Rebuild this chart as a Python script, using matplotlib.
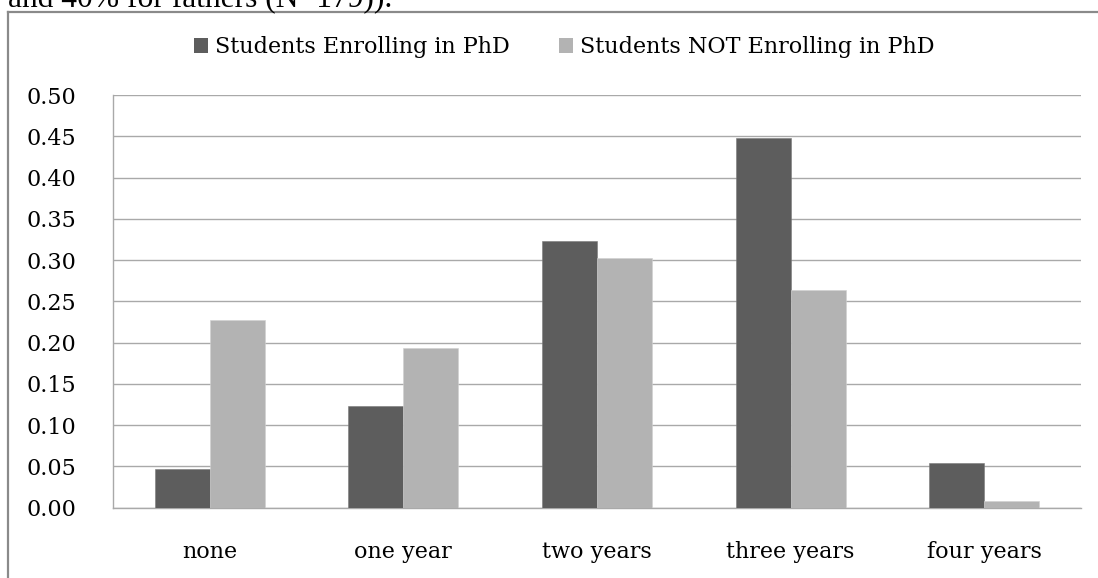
import matplotlib.pyplot as plt
import numpy as np
from matplotlib.lines import Line2D
from matplotlib.patches import Patch

# data
categories = ['none', 'one year', 'two years', 'three years', 'four years']
enrolling = [0.047, 0.123, 0.323, 0.448, 0.054]
not_enrolling = [0.227, 0.194, 0.302, 0.264, 0.008]
series_names = ['Students Enrolling in PhD', 'Students NOT Enrolling in PhD']
yticks = [0.00, 0.05, 0.10, 0.15, 0.20, 0.25, 0.30, 0.35, 0.40, 0.45, 0.50]

dark = '#5d5d5d'
light = '#b3b3b3'
grid_c = '#a9a9a9'

plt.rcParams['font.family'] = ['DejaVu Serif']

fig = plt.figure(figsize=(10.98, 5.78), dpi=100)
ax = fig.add_axes([112.7 / 1098, 1 - 507.7 / 578, (1081 - 112.7) / 1098, (507.7 - 95) / 578])

x = np.arange(len(categories))
w = 0.284
ax.bar(x - w / 2, enrolling, w, color=dark, edgecolor='#7a7a7a', linewidth=0.4, zorder=3)
ax.bar(x + w / 2, not_enrolling, w, color=light, edgecolor='#d0d0d0', linewidth=0.4, zorder=3)

ax.set_xlim(-0.5, len(categories) - 0.5)
ax.set_ylim(0, 0.5)
ax.set_yticks(yticks)
ax.set_yticklabels(['%.2f' % v for v in yticks], fontsize=16)
ax.set_xticks(x)
ax.set_xticklabels(categories, fontsize=16)
ax.tick_params(axis='y', length=0, pad=26)
ax.tick_params(axis='x', length=0, pad=24)
ax.yaxis.grid(True, color=grid_c, linewidth=1.0, zorder=0)
ax.set_axisbelow(True)
for s in ['top', 'right']:
    ax.spines[s].set_visible(False)
for s in ['left', 'bottom']:
    ax.spines[s].set_color(grid_c)
    ax.spines[s].set_linewidth(1.0)

handles = [Patch(facecolor=dark, edgecolor='none'), Patch(facecolor=light, edgecolor='none')]
fig.legend(handles, series_names, loc='center', bbox_to_anchor=(564 / 1098, 1 - 47 / 578),
           ncol=2, frameon=False, fontsize=16, handlelength=0.65, handleheight=0.65,
           handletextpad=0.3, columnspacing=2.2, borderpad=0)

# frame of the chart box (cut off at right and bottom)
fig.add_artist(Line2D([8 / 1098, 8 / 1098], [0, 1 - 12 / 578], color='#8a8a8a', lw=1.6,
                      transform=fig.transFigure))
fig.add_artist(Line2D([8 / 1098, 1], [1 - 12 / 578, 1 - 12 / 578], color='#8a8a8a', lw=1.6,
                      transform=fig.transFigure))

# leftover document text above the chart
fig.text(8 / 1098, 1 - 7 / 578, 'and 40% for fathers (N=179)).', fontsize=22.7,
         family='Liberation Serif', va='baseline', ha='left')

fig.savefig('out.png', dpi=100)
